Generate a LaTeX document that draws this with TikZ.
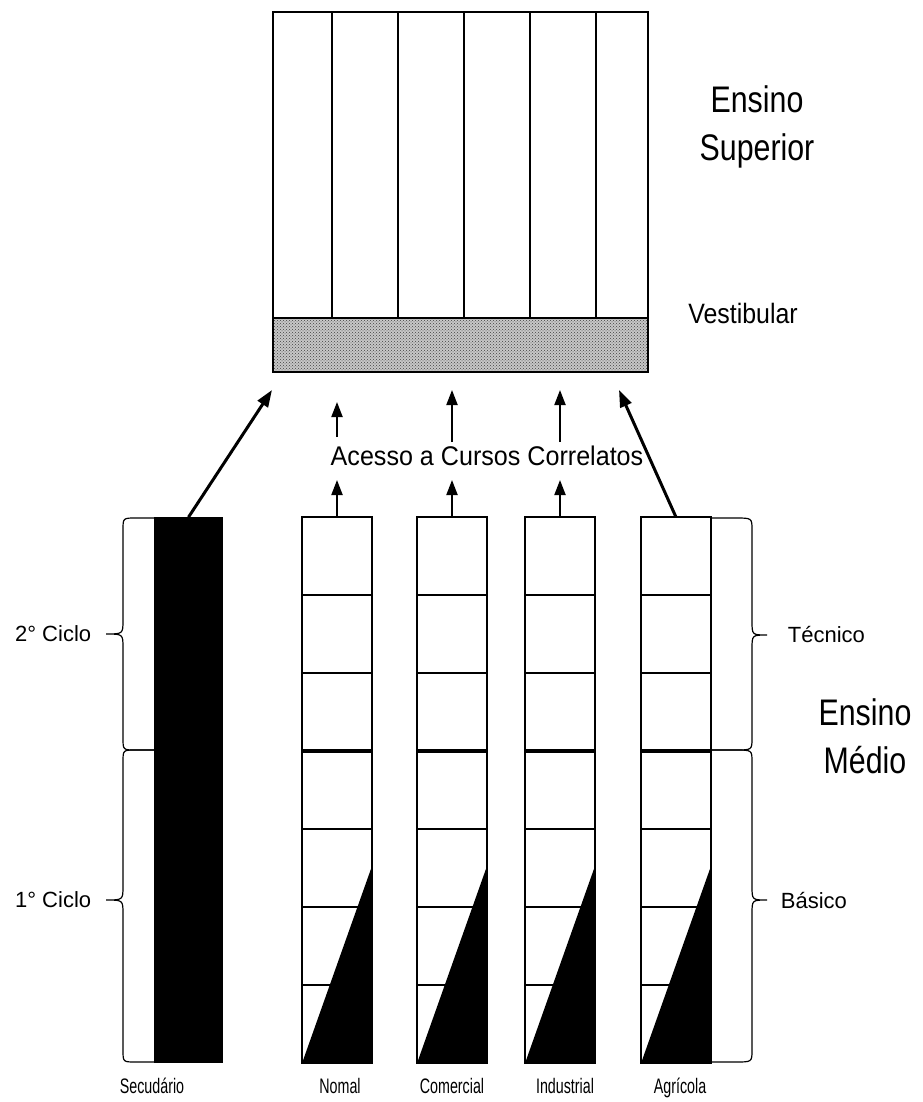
\documentclass[tikz,border=0pt]{standalone}
\usepackage{fontspec}
\setmainfont{Liberation Sans}
\usetikzlibrary{arrows.meta,calc,patterns}

% curly brace: #1 edge x, #2 spine x, #3 tip x, #4 top y, #5 tip y, #6 bottom y
\newcommand{\curly}[6]{%
  \draw[line width=1.2pt] (#1,#4) -- ({#2+0.4*(#1-#2)},#4) .. controls (#2,#4) .. (#2,#4+12)
    -- (#2,#5-14) .. controls (#2,#5) .. (#3,#5) .. controls (#2,#5) .. (#2,#5+14)
    -- (#2,#6-12) .. controls (#2,#6) .. ({#2+0.4*(#1-#2)},#6) -- (#1,#6);}

\tikzset{
  col/.style={minimum width=68pt, minimum height=544pt, inner sep=0pt},
  arr/.style={line width=2pt, -{Triangle[length=15pt,width=11pt]}},
  bigarr/.style={line width=3pt, -{Triangle[length=17pt,width=12pt]}},
  big/.style={font=\fontsize{37}{48}\selectfont, align=center, xscale=0.82, inner sep=0pt},
  lab/.style={font=\fontsize{22}{26}\selectfont, inner sep=0pt},
  foot/.style={font=\fontsize{21}{24}\selectfont, xscale=0.68, anchor=base, inner sep=0pt}
}

\begin{document}
\begin{tikzpicture}[x=1pt, y=-1pt, line width=1.7pt]
\useasboundingbox (0,0) rectangle (922,1102);

% ensino superior
\node[inner sep=0pt, minimum width=373pt, minimum height=358pt] (sup) at (460.5,192) {};
\coordinate (vw) at (274,318);
\fill[black!22] (vw) rectangle (sup.south east);
\fill[pattern=crosshatch dots, pattern color=black!75] (vw) rectangle (sup.south east);
\foreach \x in {332,398,464,530,596}
  \draw (\x,318) -- (\x,13);
\draw (vw) -- (vw -| sup.east);
\draw (sup.south west) rectangle (sup.north east);

\node[big] (ens-sup) at (757,127) {Ensino\\Superior};
\node[font=\fontsize{28}{34}\selectfont, xscale=0.89, anchor=base, inner sep=0pt] (vest) at (743,323) {Vestibular};

% ensino medio
\node[col] (sec) at (188.5,790) {};
\node[col] (nor) at (337,790) {};
\node[col] (com) at (452,790) {};
\node[col] (ind) at (560,790) {};
\node[col] (agr) at (676,790) {};

\fill (sec.south west) rectangle (sec.north east);
\foreach \c in {nor,com,ind,agr} {
  \foreach \k in {1,2,4,5,6}
    \draw ($(\c.north west)!\k/7!(\c.south west)$) -- ($(\c.north east)!\k/7!(\c.south east)$);
  \draw[line width=4.5pt] ($(\c.north west)!3/7!(\c.south west)$) -- ($(\c.north east)!3/7!(\c.south east)$);
  \fill (\c.south west) -- ($(\c.north east)!0.64!(\c.south east)$) -- (\c.south east) -- cycle;
  \draw (\c.south west) rectangle (\c.north east);
}

\curly{155}{123}{106}{518}{634}{750}
\curly{155}{123}{106}{750}{900}{1062}
\curly{710}{752}{767}{518}{635}{750}
\curly{710}{752}{767}{750}{900}{1062}

\node[lab, anchor=east] (c2) at (92,634) {2° Ciclo};
\node[lab, anchor=east] (c1) at (92,900) {1° Ciclo};
\node[lab, anchor=west] (tec) at (787,635) {Técnico};
\node[lab, anchor=west] (bas) at (780,900) {Básico};
\node[big] (ens-med) at (865,736) {Ensino\\Médio};

\node[foot] (l-sec) at (152,1093) {Secudário};
\node[foot] (l-nor) at (340,1093) {Nomal};
\node[foot] (l-com) at (452,1093) {Comercial};
\node[foot] (l-ind) at (565,1093) {Industrial};
\node[foot] (l-agr) at (680,1093) {Agrícola};

% acesso
\node[font=\fontsize{27}{32}\selectfont, xscale=0.93, anchor=base, inner sep=0pt] (acesso) at (487,465) {Acesso a Cursos Correlatos};
\coordinate (lo) at (0,480);
\coordinate (hi) at (0,442);
\coordinate (top) at (0,390);
\coordinate (top2) at (0,402);
\coordinate (s-tip) at (272,390);
\coordinate (a-tip) at (619,390);

\draw[bigarr] (sec.north) -- (s-tip);
\draw[bigarr] (agr.north) -- (a-tip);
\foreach \c in {nor,com,ind}
  \draw[arr] (\c.north) -- (\c.north |- lo);
\draw[arr] (nor.north |- 0,437) -- (nor.north |- top2);
\draw[arr] (com.north |- hi) -- (com.north |- top);
\draw[arr] (ind.north |- hi) -- (ind.north |- top);
\end{tikzpicture}
\end{document}
